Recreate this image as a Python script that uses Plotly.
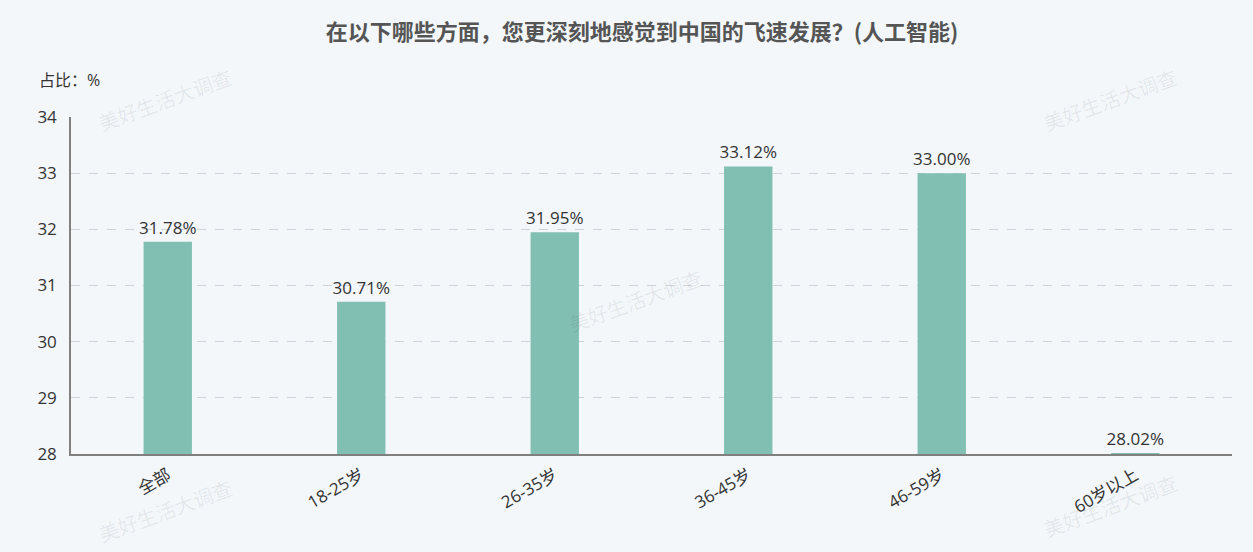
import plotly.graph_objects as go

categories = ["全部", "18-25岁", "26-35岁", "36-45岁", "46-59岁", "60岁以上"]
values = [31.78, 30.71, 31.95, 33.12, 33.00, 28.02]
y_ticks = [28, 29, 30, 31, 32, 33, 34]

FONT = "Open Sans, Noto Sans CJK SC"
CJK = "Noto Sans CJK SC"
BG = "#f3f7fa"

fig = go.Figure()
fig.add_trace(go.Bar(
    x=categories, y=values,
    width=0.25,
    marker=dict(color="#82bfb3", line=dict(width=0)),
    texttemplate="%{y:.2f}%",
    textposition="outside",
    constraintext="none",
    textfont=dict(size=17, color="#333333", family=FONT),
    cliponaxis=False,
))

fig.update_layout(
    width=1253, height=552,
    margin=dict(l=71, r=21, t=117, b=98),
    paper_bgcolor=BG, plot_bgcolor=BG,
    font=dict(family=FONT, color="#333333"),
    showlegend=False,
    bargap=0.75,
    title=dict(
        text="<b>在以下哪些方面，您更深刻地感觉到中国的飞速发展？(人工智能)</b>",
        x=0.5124, xanchor="center", y=0.942, yanchor="middle",
        font=dict(size=22, color="#555555", family=CJK),
    ),
    xaxis=dict(
        tickangle=-30,
        tickfont=dict(size=17, color="#333333", family=FONT),
        showline=True, linecolor="#808080", linewidth=2,
        showgrid=False, ticks="", ticklabelstandoff=3,
    ),
    yaxis=dict(
        range=[28, 34], tickvals=y_ticks,
        tickfont=dict(size=17, color="#333333", family=FONT),
        showline=True, linecolor="#808080", linewidth=1.5,
        showgrid=True, gridcolor="#cdd3d8", griddash="dash", gridwidth=1,
        zeroline=False, ticks="", ticklabelstandoff=9,
    ),
)

fig.add_annotation(
    text="占比：%", xref="paper", yref="paper", x=-0.029, y=1.11,
    xanchor="left", yanchor="middle", showarrow=False,
    font=dict(size=16, color="#333333", family=FONT),
)

watermarks = [(165, 100), (1110, 100), (635, 300), (165, 510), (1110, 505)]
for wx, wy in watermarks:
    fig.add_annotation(
        text="美好生活大调查", xref="paper", yref="paper",
        x=(wx - 71) / (1253 - 71 - 21), y=(552 - 98 - wy) / (552 - 117 - 98),
        xanchor="center", yanchor="middle", showarrow=False, textangle=-20,
        font=dict(size=20, color="rgba(0,0,0,0.07)", family=CJK),
    )

fig.write_html("out.html")
